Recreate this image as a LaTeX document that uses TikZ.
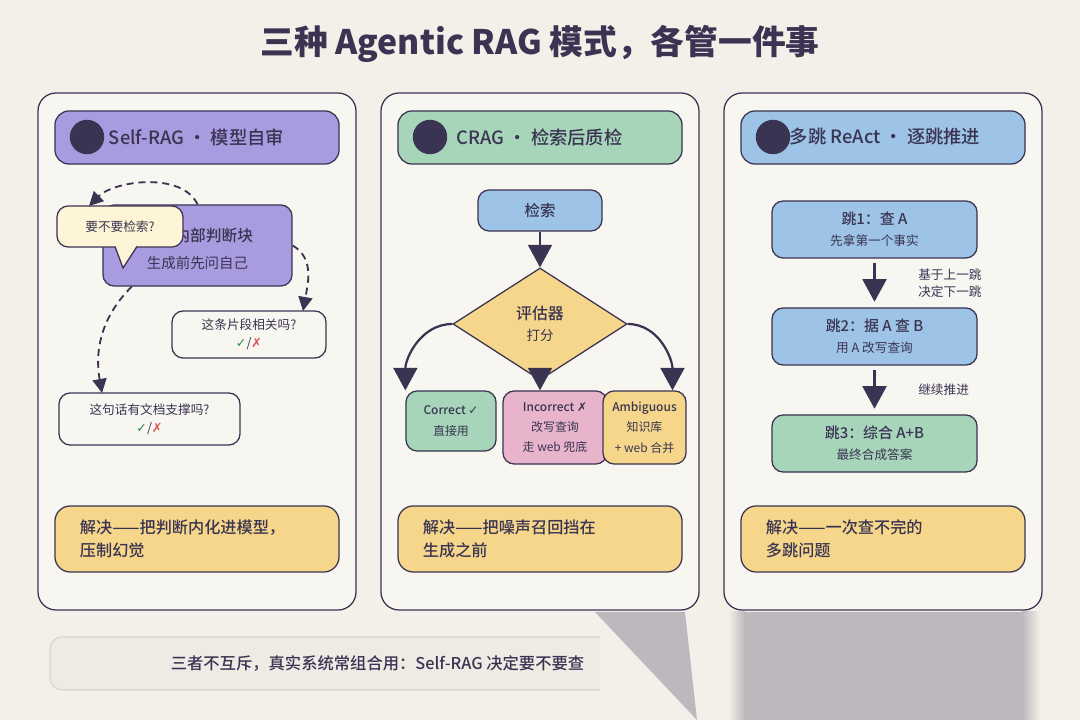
\documentclass[tikz,border=0pt]{standalone}
\usepackage{fontspec}
\setmainfont{Noto Sans CJK SC}
\newfontfamily\medfont{Noto Sans CJK SC Medium}
\newfontfamily\symfont{DejaVu Sans}
\usetikzlibrary{arrows.meta,shapes.geometric}
\definecolor{ink}{HTML}{3A3452}
\definecolor{bg}{HTML}{F3F0EA}
\definecolor{paper}{HTML}{F8F6F0}
\definecolor{lav}{HTML}{A99BDF}
\definecolor{mint}{HTML}{A6D5B9}
\definecolor{sky}{HTML}{9DC3E6}
\definecolor{sand}{HTML}{F5D68A}
\definecolor{rose}{HTML}{E8B4CB}
\definecolor{cream}{HTML}{FDF5D6}
\definecolor{okgreen}{HTML}{2E8B57}
\definecolor{nored}{HTML}{D9534F}
\definecolor{notefill}{HTML}{EEEBE5}
\definecolor{notegray}{HTML}{D9D5CF}
\definecolor{shadowgray}{HTML}{BDB8BD}
\newcommand\okmark{{\symfont\color{okgreen}\bfseries ✓}}
\newcommand\nomark{{\symfont\color{nored}✗}}
\begin{document}
\begin{tikzpicture}[x=0.025cm, y=-0.025cm, text=ink,
  >={Triangle[width=17pt,length=16pt]},
  panel/.style={draw=ink, line width=0.9pt, fill=paper, rounded corners=0.45cm},
  bar/.style={draw=ink, line width=0.9pt, rounded corners=0.35cm, minimum width=7.1cm, minimum height=1.325cm},
  box/.style={draw=ink, line width=0.9pt, rounded corners=0.28cm, align=center, inner sep=0pt},
  sol/.style={draw=ink, line width=0.9pt, fill=sand, rounded corners=0.38cm, text width=5.85cm, inner xsep=0.625cm, minimum height=1.65cm, align=left, font=\fontsize{11.5}{16.3}\selectfont\medfont},
  flow/.style={->, draw=ink, line width=1.6pt},
  loop/.style={-{Triangle[width=10pt,length=10pt]}, draw=ink, line width=1.3pt, dash pattern=on 5pt off 3.5pt},
  head/.style={anchor=west, font=\fontsize{13}{16}\selectfont\medfont},
  dot/.style={circle, fill=ink, minimum size=0.86cm, inner sep=0pt},
  small/.style={font=\fontsize{9}{12}\selectfont}]
 \fill[bg] (0,0) rectangle (1080,720);
 \useasboundingbox (0,0) rectangle (1080,720);
 \node[font=\fontsize{24}{28}\selectfont\bfseries] (title) at (540,44) {三种 Agentic RAG 模式，各管一件事};

 % panels
 \filldraw[panel] (38,93) rectangle (356,610);
 \filldraw[panel] (381,93) rectangle (699,610);
 \filldraw[panel] (724,93) rectangle (1042,610);

 % shadows under the panels
 \fill[shadowgray] (595,612) -- (685,612) -- (697,720) -- cycle;
 \fill[shadowgray] (745,612) rectangle (1022,720);
 \shade[left color=bg, right color=shadowgray] (728,612) rectangle (745,720);
 \shade[left color=shadowgray, right color=bg] (1022,612) rectangle (1040,720);

 % --- Self-RAG
 \node[bar, fill=lav] (h1) at (197,137.5) {};
 \node[head] (h1t) at (104,137) {Self-RAG · 模型自审};
 \node[dot] (d1) at (87,137) {};
 \node[box, fill=lav, minimum width=4.725cm, minimum height=2.025cm] (judge) at (197.5,245.5) {};
 \node[anchor=east, font=\fontsize{11.2}{14}\selectfont\medfont] (judgeT) at (258,236) {内部判断块};
 \node[font=\fontsize{10.3}{13}\selectfont] (judgeS) at (197.5,263) {生成前先问自己};
 \node[box, fill=cream, minimum width=3.15cm, minimum height=1.025cm, small] (ask) at (120,226.5) {要不要检索?};
 \fill[cream] (115,245) -- (123,268) -- (137,245) -- cycle;
 \draw[ink, line width=0.9pt] (115,246.6) -- (123,268) -- (137,246.6);
 \node[box, fill=paper, minimum width=3.85cm, minimum height=1.175cm, small] (rel) at (249,334.5) {这条片段相关吗?\\[1pt]\okmark/\nomark};
 \node[box, fill=paper, minimum width=4.525cm, minimum height=1.3cm, small] (sup) at (149.5,419) {这句话有文档支撑吗?\\[1pt]\okmark/\nomark};
 \coordinate (t1) at (89,206);
 \coordinate (t2) at (303,311);
 \coordinate (t3) at (102,393);
 \draw[loop] (judge.north) to[out=115, in=45, looseness=0.85] (t1);
 \draw[loop] (judge.east) to[out=-30, in=80] (t2);
 \draw[loop] (judge.212) to[out=225, in=100] (t3);
 \node[sol] (s1) at (197,539) {解决——把判断内化进模型，\\压制幻觉};

 % --- CRAG
 \node[bar, fill=mint] (h2) at (540,137.5) {};
 \node[head] (h2t) at (452,137) {CRAG · 检索后质检};
 \node[dot] (d2) at (430,137) {};
 \node[box, fill=sky, minimum width=3.1cm, minimum height=1.025cm, font=\fontsize{11}{14}\selectfont\medfont] (ret) at (540,210.5) {检索};
 \node[diamond, draw=ink, line width=0.9pt, fill=sand, minimum width=4.35cm, minimum height=2.8cm, inner sep=0pt, align=center] (eval) at (540,324)
   {{\fontsize{11.3}{14}\selectfont\medfont 评估器}\\[3pt]{\fontsize{9.6}{12}\selectfont 打分}};
 \node[box, fill=mint, minimum width=2.25cm, minimum height=1.5cm, font=\fontsize{8.5}{15.6}\selectfont] (cor) at (451,421) {{\medfont Correct {\symfont ✓}}\\直接用};
 \node[box, fill=rose, minimum width=2.6cm, minimum height=1.825cm, font=\fontsize{8.5}{14.5}\selectfont] (inc) at (555,427.5) {{\medfont Incorrect {\symfont ✗}}\\改写查询\\走 web 兜底};
 \node[box, fill=sand, minimum width=2.075cm, minimum height=1.825cm, font=\fontsize{8.5}{14.5}\selectfont] (amb) at (644.5,427.5) {{\medfont Ambiguous}\\知识库\\+ web 合并};
 \draw[flow] (ret) -- (eval);
 \draw[flow] (eval.west) to[out=180, in=90] (cor.north west);
 \draw[flow] (eval.east) to[out=0, in=90] (amb.53);
 \draw[flow] (eval.south) -- (eval.south |- inc.north);
 \node[sol] (s2) at (540,539) {解决——把噪声召回挡在\\生成之前};

 % --- multi-hop ReAct
 \node[bar, fill=sky] (h3) at (883,137.5) {};
 \node[head] (h3t) at (785,137) {多跳 ReAct · 逐跳推进};
 \node[dot] (d3) at (773,137) {};
 \node[box, fill=sky, minimum width=5.125cm, minimum height=1.425cm] (hop1) at (874.5,229.5)
   {{\fontsize{10.6}{13}\selectfont\medfont 跳1：查 A}\\[3pt]{\fontsize{9}{11}\selectfont 先拿第一个事实}};
 \node[box, fill=sky, minimum width=5.125cm, minimum height=1.425cm] (hop2) at (874.5,336.5)
   {{\fontsize{10.6}{13}\selectfont\medfont 跳2：据 A 查 B}\\[3pt]{\fontsize{9}{11}\selectfont 用 A 改写查询}};
 \node[box, fill=mint, minimum width=5.125cm, minimum height=1.425cm] (hop3) at (874.5,443.5)
   {{\fontsize{10.6}{13}\selectfont\medfont 跳3：综合 A+B}\\[3pt]{\fontsize{9}{11}\selectfont 最终合成答案}};
 \draw[flow, shorten <=3pt, shorten >=4pt] (hop1) -- node[anchor=west, xshift=0.95cm, small, align=left] {基于上一跳\\决定下一跳} (hop2);
 \draw[flow, shorten <=3pt, shorten >=4pt] (hop2) -- node[anchor=west, xshift=0.95cm, small] {继续推进} (hop3);
 \node[sol] (s3) at (883,539) {解决——一次查不完的\\多跳问题};

 % --- note
 \filldraw[fill=notefill, draw=notegray, line width=0.8pt, rounded corners=0.3cm] (600,637) -- (50,637) -- (50,690) -- (600,690);
 \node[font=\fontsize{11.6}{14}\selectfont\medfont] (note) at (377.5,664) {三者不互斥，真实系统常组合用：Self-RAG 决定要不要查};
\end{tikzpicture}
\end{document}
